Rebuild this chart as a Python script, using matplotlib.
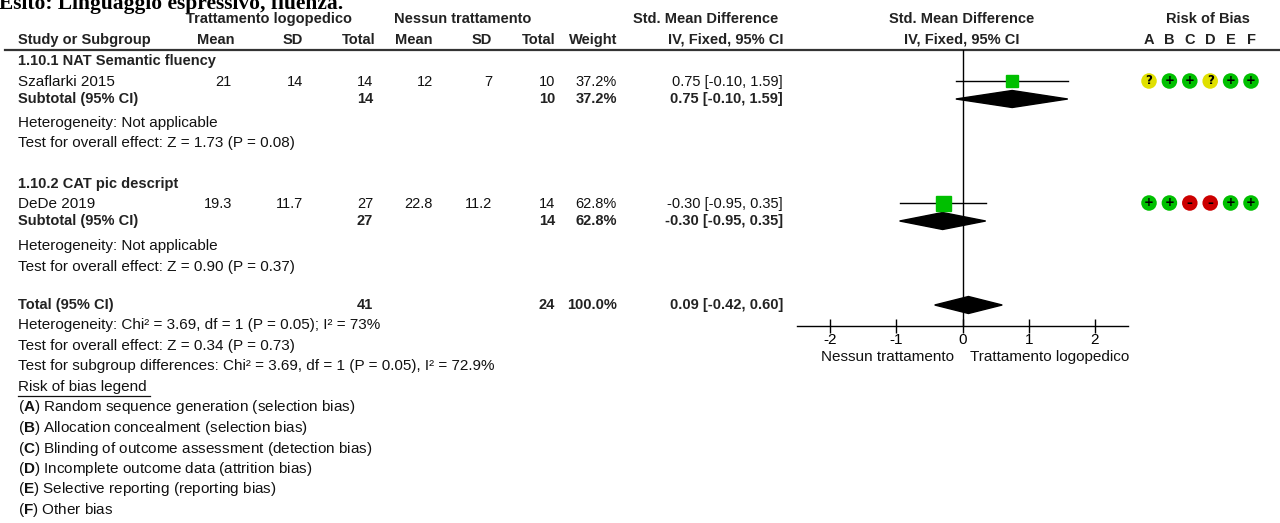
import numpy as np
import matplotlib
matplotlib.use('Agg')
import matplotlib.pyplot as plt

# ---- data ----
title = 'Esito: Linguaggio espressivo, fluenza.'
group_exp = 'Trattamento logopedico'
group_ctl = 'Nessun trattamento'
subgroups = ['1.10.1 NAT Semantic fluency', '1.10.2 CAT pic descript']
studies = ['Szaflarki 2015', 'DeDe 2019']
exp_mean = [21, 19.3]
exp_sd = [14, 11.7]
exp_n = [14, 27]
ctl_mean = [12, 22.8]
ctl_sd = [7, 11.2]
ctl_n = [10, 14]
weights = [37.2, 62.8]
smd = [0.75, -0.30]
ci_lo = [-0.10, -0.95]
ci_hi = [1.59, 0.35]
total_smd = [0.09, -0.42, 0.60]
sub_het = ['Heterogeneity: Not applicable', 'Heterogeneity: Not applicable']
sub_test = ['Test for overall effect: Z = 1.73 (P = 0.08)',
            'Test for overall effect: Z = 0.90 (P = 0.37)']
total_notes = ['Heterogeneity: Chi\u00b2 = 3.69, df = 1 (P = 0.05); I\u00b2 = 73%',
               'Test for overall effect: Z = 0.34 (P = 0.73)',
               'Test for subgroup differences: Chi\u00b2 = 3.69, df = 1 (P = 0.05), I\u00b2 = 72.9%']
rob_domains = ['A', 'B', 'C', 'D', 'E', 'F']
rob = [['?', '+', '+', '?', '+', '+'],
       ['+', '+', '-', '-', '+', '+']]
rob_legend = ['Random sequence generation (selection bias)',
              'Allocation concealment (selection bias)',
              'Blinding of outcome assessment (detection bias)',
              'Incomplete outcome data (attrition bias)',
              'Selective reporting (reporting bias)',
              'Other bias']
xticks = [-2, -1, 0, 1, 2]
favours = ['Nessun trattamento', 'Trattamento logopedico']

# ---- styles ----
plt.rcParams['axes.unicode_minus'] = False
plt.rcParams['mathtext.fontset'] = 'custom'
plt.rcParams['mathtext.rm'] = 'Liberation Sans'
plt.rcParams['mathtext.bf'] = 'Liberation Sans:bold'
REG = dict(family=['Liberation Sans', 'DejaVu Sans'], size=11, color='#111111')
NUM = dict(family=['Liberation Sans', 'DejaVu Sans'], size=10.5, color='#111111')
BOLD = dict(family=['Liberation Sans', 'DejaVu Sans'], weight='bold',
            size=10.5, color='#222222')
rob_colors = {'?': '#e0e000', '+': '#00c000', '-': '#cc0000'}
rob_marks = {'?': '?', '+': '+', '-': '\u2013'}

fig = plt.figure(figsize=(12.8, 5.23), dpi=100)
ax = fig.add_axes([0, 0, 1, 1])
ax.set_xlim(0, 1280)
ax.set_ylim(523, 0)
ax.axis('off')

# column layout (pixels)
x_study = 18
cols = [232, 303, 373, 433, 492, 555, 617, 783]
y_h1, y_h2 = 19, 40
y_sub = [61, 184]
y_study = [82, 204]
y_subtot = [99, 221]
y_het = [123, 246]
y_test = [143, 267]
y_total = 305
y_notes = [325, 346, 366]
y_leg = 387
leg_step = 20.5

# the reference shows this title clipped at the top edge
ax.text(-1, 9, title, family=['Liberation Serif', 'DejaVu Serif'], weight='bold',
        size=15.5, va='baseline', ha='left')

# headers
ax.text(269, y_h1, group_exp, ha='center', va='center', **BOLD)
ax.text(463, y_h1, group_ctl, ha='center', va='center', **BOLD)
ax.text(778, y_h1, 'Std. Mean Difference', ha='right', va='center', **BOLD)
ax.text(962, y_h1, 'Std. Mean Difference', ha='center', va='center', **BOLD)
ax.text(1208, y_h1, 'Risk of Bias', ha='center', va='center', **BOLD)
ax.text(x_study, y_h2, 'Study or Subgroup', ha='left', va='center', **BOLD)
for lab, xr in zip(['Mean', 'SD', 'Total', 'Mean', 'SD', 'Total', 'Weight',
                    'IV, Fixed, 95% CI'], [234, 303, 375, 433, 492, 555, 617, 783]):
    ax.text(xr, y_h2, lab, ha='right', va='center', **BOLD)
ax.text(962, y_h2, 'IV, Fixed, 95% CI', ha='center', va='center', **BOLD)
rob_x = [1149 + 20.4 * i for i in range(6)]
for lab, xx in zip(rob_domains, rob_x):
    ax.text(xx, y_h2, lab, ha='center', va='center', **BOLD)
ax.plot([5, 1280], [49.5, 49.5], color='#333333', lw=1.6)

# subgroup blocks
for i in range(len(studies)):
    ax.text(x_study, y_sub[i], subgroups[i], ha='left', va='center', **BOLD)
    ax.text(x_study, y_study[i], studies[i], ha='left', va='center', **REG)
    vals = [f'{exp_mean[i]:g}', f'{exp_sd[i]:g}', f'{exp_n[i]}',
            f'{ctl_mean[i]:g}', f'{ctl_sd[i]:g}', f'{ctl_n[i]}',
            f'{weights[i]:.1f}%', f'{smd[i]:.2f} [{ci_lo[i]:.2f}, {ci_hi[i]:.2f}]']
    for v, xr in zip(vals, cols):
        ax.text(xr, y_study[i], v, ha='right', va='center', **NUM)
    ax.text(x_study, y_subtot[i], 'Subtotal (95% CI)', ha='left', va='center', **BOLD)
    sub_vals = [f'{exp_n[i]}', f'{ctl_n[i]}', f'{weights[i]:.1f}%',
                f'{smd[i]:.2f} [{ci_lo[i]:.2f}, {ci_hi[i]:.2f}]']
    for v, xr in zip(sub_vals, [cols[2], cols[5], cols[6], cols[7]]):
        ax.text(xr, y_subtot[i], v, ha='right', va='center', **BOLD)
    ax.text(x_study, y_het[i], sub_het[i], ha='left', va='center', **REG)
    ax.text(x_study, y_test[i], sub_test[i], ha='left', va='center', **REG)
    # risk of bias circles
    cs = [rob_colors[r] for r in rob[i]]
    ax.scatter(rob_x, [y_study[i] - 1] * 6, s=125, c=cs, edgecolors='none', zorder=3)
    for r, xx in zip(rob[i], rob_x):
        ax.text(xx, y_study[i] - 1, rob_marks[r], ha='center', va='center',
                family='DejaVu Sans', weight='bold', size=8.5, color='black', zorder=4)

# total
ax.text(x_study, y_total, 'Total (95% CI)', ha='left', va='center', **BOLD)
tot_vals = [f'{sum(exp_n)}', f'{sum(ctl_n)}', f'{sum(weights):.1f}%',
            f'{total_smd[0]:.2f} [{total_smd[1]:.2f}, {total_smd[2]:.2f}]']
for v, xr in zip(tot_vals, [cols[2], cols[5], cols[6], cols[7]]):
    ax.text(xr, y_total, v, ha='right', va='center', **BOLD)
for note, yy in zip(total_notes, y_notes):
    ax.text(x_study, yy, note, ha='left', va='center', **REG)

# risk of bias legend
ax.text(x_study, y_leg, 'Risk of bias legend', ha='left', va='center', **REG)
ax.plot([x_study, 150], [y_leg + 9, y_leg + 9], color='#111111', lw=0.9)
for k, (d, lab) in enumerate(zip(rob_domains, rob_legend)):
    ax.text(x_study, y_leg + leg_step * (k + 1), r'($\mathbf{' + d + r'}$) ' + lab,
            ha='left', va='center', **REG)

# favours labels
ax.text(954, 357, favours[0], ha='right', va='center', **REG)
ax.text(970, 357, favours[1], ha='left', va='center', **REG)

# ---- forest plot axes (data y = pixel row) ----
fl, fr, ftop, fbot = 797, 1128, 50, 326
fax = fig.add_axes([fl / 1280, (523 - fbot) / 523, (fr - fl) / 1280, (fbot - ftop) / 523])
fax.set_xlim(-2.5, 2.5)
fax.set_ylim(fbot, ftop)
fax.patch.set_alpha(0)
for s in ['top', 'left', 'right']:
    fax.spines[s].set_visible(False)
fax.spines['bottom'].set_linewidth(1)
fax.set_yticks([])
fax.set_xticks(xticks)
fax.set_xticklabels([str(v) for v in xticks], family='Liberation Sans', size=11)
fax.tick_params(axis='x', direction='inout', length=10, width=1, pad=0)
fax.axvline(0, color='black', lw=1)

wmax = max(weights)
for i in range(len(studies)):
    fax.plot([ci_lo[i], ci_hi[i]], [y_study[i] - 1] * 2, color='black', lw=1, zorder=3)
    fax.plot(smd[i], y_study[i] - 1, marker='s', ms=10.8 * np.sqrt(weights[i] / wmax),
             color='#00bf00', mec='#00bf00', zorder=4)
    fax.fill([ci_lo[i], smd[i], ci_hi[i], smd[i]],
             [y_subtot[i], y_subtot[i] - 8.5, y_subtot[i], y_subtot[i] + 8.5],
             color='black', zorder=3)
fax.fill([total_smd[1], total_smd[0], total_smd[2], total_smd[0]],
         [y_total, y_total - 8.5, y_total, y_total + 8.5], color='black', zorder=3)

fig.savefig('out.png', dpi=100)
